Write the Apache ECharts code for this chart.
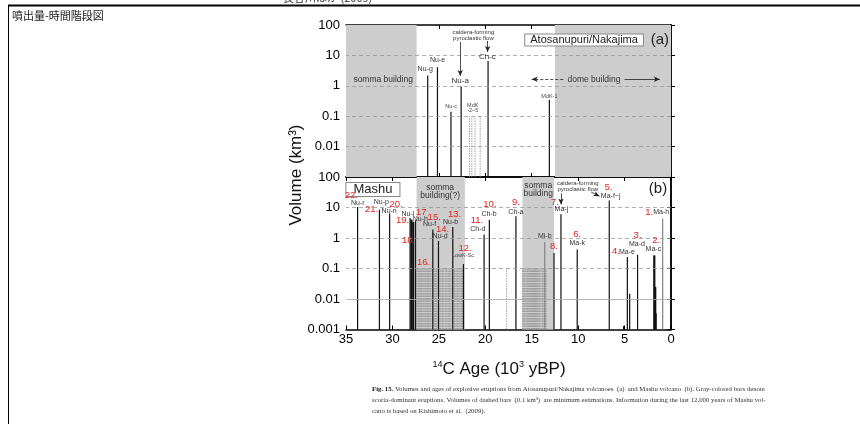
<!DOCTYPE html>
<html><head><meta charset="utf-8">
<script src="https://cdn.jsdelivr.net/npm/echarts@6/dist/echarts.min.js"></script>
<style>html,body{margin:0;padding:0;background:#fff}#c{width:860px;height:424px}</style>
</head><body><div id="c"></div>
<script>
// ---------- data ----------
const xTickStep = 5;
const ageMin = 0, ageMax = 35;
const volMin = 0.001, volMax = 100;
// Panel (a) Atosanupuri/Nakajima : solid bars
const agesA  = [26.2, 25.15, 23.7, 22.6, 19.7, 13.1];
const volsA  = [2.2, 4.1, 0.14, 0.95, 6.6, 0.35];
const kindsA = ['k','k','k','k','k','k'];
// Panel (a) dashed bars (0.1 km3 minimum)
const dashAgesA = [21.7, 21.45, 21.1, 20.55];
// Panel (b) Mashu : solid bars
const agesB  = [33.75, 31.4, 30.3, 28.1, 27.95, 27.75, 27.5, 25.65, 25.04, 23.5, 22.35, 20.13, 19.56, 16.7, 13.6, 12.6, 11.85, 10.1, 6.65, 5.1, 4.7, 4.45, 3.6, 1.8, 1.7, 1.6, 0.9];
const volsB  = [10.5, 8.5, 6.3, 4.5, 4.0, 3.4, 3.8, 1.9, 0.8, 2.3, 0.14, 1.3, 4.0, 5.2, 0.74, 0.32, 6.0, 0.42, 17, 0.0013, 0.24, 0.015, 0.28, 0.27, 0.025, 0.0034, 4.4];
const kindsB = ['k','k','k','k','K','K','k','k','k','k','k','k','k','k','g','k','k','k','k','k','k','k','k','K','K','k','g'];
// Panel (b) dashed bars (0.1 km3 minimum)
const dashAgesB = [27.35, 27.22, 27.1, 26.97, 26.85, 26.72, 26.6, 26.47, 26.35, 26.22, 26.1, 25.97, 25.85, 25.5, 25.38, 25.25, 24.9, 24.78, 24.62, 24.48, 24.3, 24.15, 24.0, 23.85, 23.7, 23.3, 23.15, 23.0, 22.85, 22.7, 22.55, 22.45,
  17.7, 16.0, 15.88, 15.75, 15.62, 15.5, 15.4, 15.3, 15.2, 15.1, 15.0, 14.9, 14.8, 14.7, 14.6, 14.5, 14.4, 14.3, 14.15, 14.0, 13.85, 13.7, 13.55, 13.45];
const dashVol = 0.1;
// gray periods (somma / dome building)
const bandsA = [[35, 27.4], [12.5, 0]];
const bandsB = [[27.4, 22.2], [16.0, 12.6]];
// reference grid levels
const gridLevels = [10, 1, 0.1, 0.01];

// ---------- annotations (data coordinates) ----------
const annA = [
  [26.47, 3.5, 'Nu-g', 'n'],
  [25.15, 6.8, 'Nu-e', 'n'],
  [23.68, 0.21, 'Nu-c', 't'],
  [22.7, 1.45, 'Nu-a', 'n8'],
  [21.35, 0.18, 'MdK\n-2~5', 't'],
  [19.77, 9.1, 'Ch-c', 'n8'],
  [13.1, 0.43, 'MdK-1', 't'],
  [21.28, 44, 'caldera-forming\npyroclastic flow', 'c'],
  [31.0, 1.58, 'somma building', 's'],
  [8.3, 1.64, 'dome building', 's'],
  [9.36, 32, 'Atosanupuri/Nakajima', 'box'],
  [1.2, 32, '(a)', 'p']
];
const annB = [
  [33.73, 14.5, 'Nu-r', 'n'],
  [31.2, 14.8, 'Nu-p', 'n'],
  [30.35, 7.7, 'Nu-n', 'n'],
  [28.33, 6.3, 'Nu-l', 'n'],
  [27.0, 4.3, 'Nu-h', 'n'],
  [26.0, 2.8, 'Nu-f', 'n'],
  [24.86, 1.15, 'Nu-d', 'n'],
  [23.73, 3.3, 'Nu-b', 'n'],
  [22.4, 0.26, 'LowK-Sc', 't'],
  [20.8, 1.9, 'Ch-d', 'n'],
  [19.6, 6.0, 'Ch-b', 'n'],
  [16.7, 7.1, 'Ch-a', 'n'],
  [13.6, 1.15, 'Mi-b', 'n'],
  [11.8, 9.2, 'Ma-j', 'n'],
  [10.1, 0.68, 'Ma-k', 'n'],
  [6.5, 24, 'Ma-f~j', 'n'],
  [4.75, 0.35, 'Ma-e', 'n'],
  [3.67, 0.63, 'Ma-d', 'n'],
  [1.9, 0.43, 'Ma-c', 'n'],
  [1.05, 6.9, 'Ma-h', 'n'],
  [24.86, 34, 'somma\nbuilding(?)', 's'],
  [14.3, 38, 'somma\nbuilding', 's'],
  [10.03, 49, 'caldera-forming\npyroclastic flow', 'c'],
  [32.1, 39, 'Mashu', 'box2'],
  [1.4, 42, '(b)', 'p']
];
const redB = [
  [34.43, 25, '22.'], [32.25, 8.5, '21.'], [29.6, 13, '20.'], [28.9, 3.9, '19.'],
  [26.9, 7.1, '17'], [28.27, 0.84, '18.'], [25.5, 4.8, '15.'], [26.64, 0.16, '16.'],
  [24.6, 1.95, '14.'], [23.3, 6.1, '13.'], [22.17, 0.44, '12.'], [20.9, 3.8, '11.'],
  [19.5, 12.7, '10.'], [16.7, 14.8, '9.'], [12.6, 0.53, '8.'], [12.5, 15, '7.'],
  [10.1, 1.3, '6.'], [6.7, 46, '5.'], [5.93, 0.36, '4.'], [3.6, 1.22, '3.'],
  [1.6, 0.83, '2.'], [2.35, 6.9, '1.']
];
// arrows [from, to, dashed]
const arrowsA = [
  [[22.7, 27.7], [22.7, 2.1], false],
  [[19.75, 30], [19.75, 13], false],
  [[11.6, 1.64], [15.0, 1.64], true],
  [[5.0, 1.64], [1.2, 1.64], false]
];
const arrowsB = [
  [[11.85, 29], [11.85, 12.6], false],
  [[8.6, 32], [7.7, 23.5], false]
];

// ---------- styles ----------
const SANS = '"Liberation Sans", Arial, sans-serif';
const barStyles = {
  k: {stroke: '#111', lineWidth: 1.2},
  K: {stroke: '#111', lineWidth: 2.2},
  g: {stroke: '#8a8a8a', lineWidth: 1.3},
  d: {stroke: '#8c8c8c', lineWidth: 0.8, lineDash: [1.5, 1]}
};
const textStyles = {
  n:   {fill: '#333', font: '7px ' + SANS},
  n8:  {fill: '#333', font: '8px ' + SANS},
  t:   {fill: '#444', font: '5.5px ' + SANS, lineHeight: 5},
  c:   {fill: '#333', font: '6px ' + SANS, lineHeight: 6},
  s:   {fill: '#333', font: '8.5px ' + SANS, lineHeight: 8},
  box: {fill: '#222', font: '11px ' + SANS, backgroundColor: '#fff', borderColor: '#888', borderWidth: 1, padding: [0, 5]},
  box2:{fill: '#222', font: '13px ' + SANS, backgroundColor: '#fff', borderColor: '#888', borderWidth: 1, padding: [0, 7]},
  p:   {fill: '#222', font: '15px ' + SANS},
  r:   {fill: '#e5231e', font: '9.5px ' + SANS}
};

function barSeries(xi, yi, ages, vols, kinds) {
  return {
    type: 'custom', xAxisIndex: xi, yAxisIndex: yi, z: 3, silent: true,
    data: ages.map((a, i) => [a, vols[i]]),
    encode: {x: 0, y: 1},
    renderItem(params, api) {
      const st = barStyles[kinds[params.dataIndex]];
      const top = api.coord([api.value(0), api.value(1)]);
      const bot = api.coord([api.value(0), volMin]);
      return {type: 'line', shape: {x1: top[0], y1: bot[1], x2: top[0], y2: top[1]}, style: Object.assign({}, st)};
    }
  };
}
function textSeries(xi, yi, items, fixedKind) {
  return {
    type: 'custom', xAxisIndex: xi, yAxisIndex: yi, z: 8, silent: true,
    data: items.map(d => [d[0], d[1]]),
    encode: {x: 0, y: 1},
    renderItem(params, api) {
      const d = items[params.dataIndex];
      const p = api.coord([api.value(0), api.value(1)]);
      const st = Object.assign({text: d[2], align: 'center', verticalAlign: 'middle'}, textStyles[fixedKind || d[3]]);
      return {type: 'text', x: p[0], y: p[1], style: st};
    }
  };
}
function markerSeries(xi, yi, bands, levels, solidLevel, arrows) {
  const s = [];
  s.push({
    type: 'scatter', xAxisIndex: xi, yAxisIndex: yi, data: [], silent: true,
    markArea: {silent: true, itemStyle: {color: '#cdcdcd'}, data: bands.map(b => [{xAxis: b[0]}, {xAxis: b[1]}])},
    markLine: {silent: true, symbol: 'none', label: {show: false}, animation: false,
      data: levels.map(v => ({yAxis: v, lineStyle: (v === solidLevel)
        ? {type: 'solid', color: '#aaa', width: 0.8}
        : {type: [4, 3], color: '#999', width: 0.8}}))}
  });
  s.push({
    type: 'scatter', xAxisIndex: xi, yAxisIndex: yi, data: [], silent: true,
    markLine: {silent: true, symbol: ['none', 'arrow'], symbolSize: [4, 6], label: {show: false}, animation: false,
      data: arrows.map(a => [{coord: a[0]}, {coord: a[1], lineStyle: {type: a[2] ? [3, 2] : 'solid', color: '#222', width: 0.8}}])}
  });
  return s;
}

function isDecade(v, e) { return Math.abs(Math.log10(v) - e) < 1e-6; }
function yLabel(hideBottom) {
  return v => {
    if (hideBottom && isDecade(v, -3)) return '';
    return v >= 1 ? String(Math.round(v)) : String(+v.toPrecision(1));
  };
}
const axisLine = {lineStyle: {color: '#000', width: 1.5}};
const axisTick = {inside: true, length: 4, lineStyle: {color: '#000', width: 1}};
function xAx(grid, pos, showLabel) {
  return {type: 'value', gridIndex: grid, position: pos, min: ageMin, max: ageMax, interval: xTickStep, inverse: true,
    axisLine, axisTick, splitLine: {show: false},
    axisLabel: {show: showLabel, color: '#000', fontSize: 13, fontFamily: SANS, margin: 3}};
}
function yAx(grid, pos, showLabel, hideBottom) {
  return {type: 'log', logBase: 10, gridIndex: grid, position: pos, min: volMin, max: volMax,
    axisLine, axisTick, splitLine: {show: false}, minorTick: {show: false},
    axisLabel: {show: showLabel, color: '#000', fontSize: 13, fontFamily: SANS, margin: 6, formatter: yLabel(hideBottom)}};
}

const caption = '{b|Fig. 15.} Volumes and ages of explosive eruptions from Atosanupuri/Nakajima volcanoes  (a)  and Mashu volcano  (b). Gray-colored bars denote\n' +
  'scoria-dominant eruptions. Volumes of dashed bars  (0.1 km\u00b3)  are minimum estimations. Information during the last 12,000 years of Mashu vol-\n' +
  'cano is based on Kishimoto et al.  (2009).';

const option = {
  animation: false,
  backgroundColor: '#fff',
  grid: [
    {left: 346, top: 25, width: 325, height: 152},
    {left: 346, top: 177, width: 325, height: 152.5}
  ],
  xAxis: [xAx(0, 'bottom', false), xAx(0, 'top', false), xAx(1, 'bottom', true), xAx(1, 'top', false)],
  yAxis: [yAx(0, 'left', true, true), yAx(0, 'right', false), yAx(1, 'left', true, false), yAx(1, 'right', false)],
  series: [
    ...markerSeries(0, 0, bandsA, gridLevels, null, arrowsA),
    ...markerSeries(2, 2, bandsB, gridLevels, 0.01, arrowsB),
    barSeries(0, 0, dashAgesA, dashAgesA.map(() => dashVol), dashAgesA.map(() => 'd')),
    barSeries(0, 0, agesA, volsA, kindsA),
    barSeries(2, 2, dashAgesB, dashAgesB.map(() => dashVol), dashAgesB.map(() => 'd')),
    barSeries(2, 2, agesB, volsB, kindsB),
    textSeries(0, 0, annA),
    textSeries(2, 2, annB),
    textSeries(2, 2, redB, 'r')
  ],
  graphic: [
    {type: 'line', shape: {x1: 8, y1: 5.5, x2: 860, y2: 5.5}, style: {stroke: '#000', lineWidth: 2}},
    {type: 'line', shape: {x1: 8.5, y1: 5, x2: 8.5, y2: 424}, style: {stroke: '#000', lineWidth: 1}},
    {type: 'text', x: 283, y: 3, style: {text: '長谷川ほか (2009)', font: '11px "Noto Sans CJK JP"', fill: '#333', verticalAlign: 'bottom'}},
    {type: 'text', x: 12, y: 16, style: {text: '噴出量-時間階段図', font: '11px "Noto Sans CJK JP"', fill: '#222', verticalAlign: 'middle'}},
    {type: 'text', x: 296, y: 175, rotation: Math.PI / 2, style: {text: 'Volume (km\u00b3)', font: '17px ' + SANS, fill: '#111', align: 'center', verticalAlign: 'middle'}},
    {type: 'text', x: 499, y: 369, style: {text: '{s|14}C Age (10{s|3} yBP)', font: '17px ' + SANS, fill: '#111', align: 'center', verticalAlign: 'middle',
      rich: {s: {fontSize: 9, verticalAlign: 'top', fontFamily: SANS, fill: '#111'}}}},
    {type: 'text', x: 372, y: 384, style: {text: caption, font: '6.8px "Liberation Serif", serif', fill: '#333', lineHeight: 11,
      rich: {b: {fontWeight: 'bold', fontSize: 6.8, fontFamily: '"Liberation Serif", serif', fill: '#222'}}}}
  ]
};
const chart = echarts.init(document.getElementById('c'));
chart.setOption(option);
</script>
</body></html>
